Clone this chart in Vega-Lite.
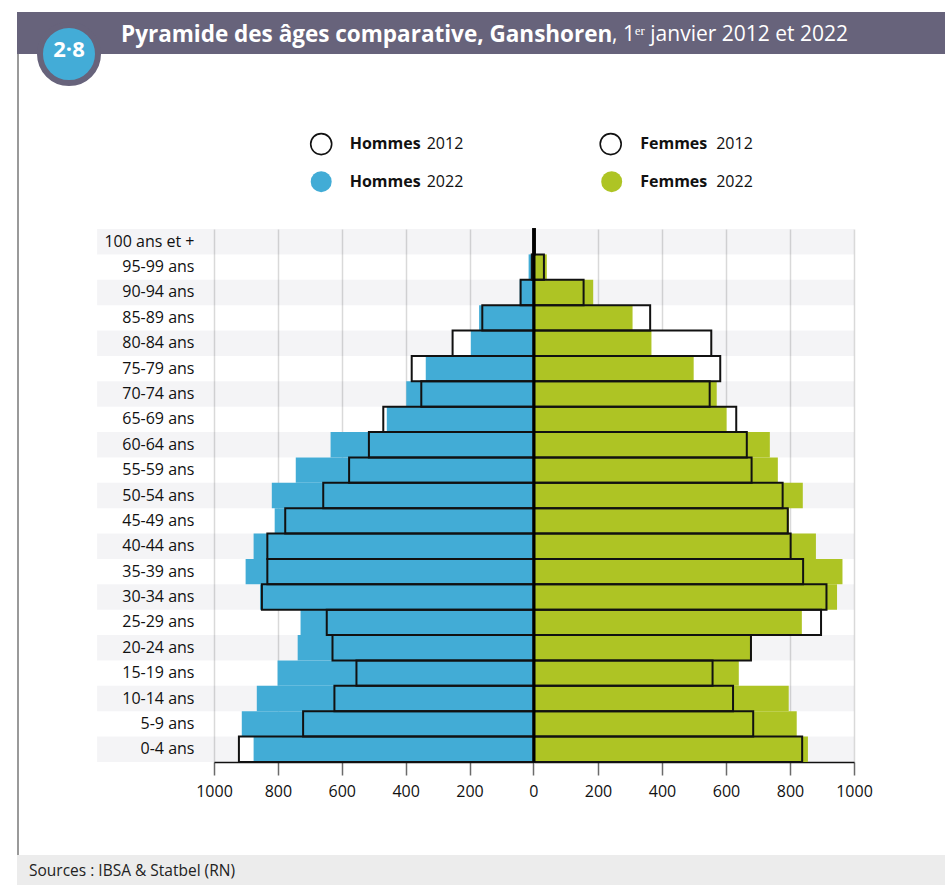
{
  "$schema": "https://vega.github.io/schema/vega-lite/v6.json",
  "padding": {"left": 17, "top": 12, "right": 0, "bottom": 0},
  "background": "white",
  "spacing": 0,
  "bounds": "flush",
  "config": {"view": {"stroke": null}, "font": "Open Sans", "concat": {"spacing": 0}},
  "datasets": {
    "pop": [
      {"age": "100 ans et +", "h2012": 1, "h2022": 1, "f2012": 3, "f2022": 4},
      {"age": "95-99 ans", "h2012": 5, "h2022": 15, "f2012": 31, "f2022": 40},
      {"age": "90-94 ans", "h2012": 40, "h2022": 43, "f2012": 155, "f2022": 185},
      {"age": "85-89 ans", "h2012": 160, "h2022": 170, "f2012": 363, "f2022": 308},
      {"age": "80-84 ans", "h2012": 253, "h2022": 196, "f2012": 554, "f2022": 367},
      {"age": "75-79 ans", "h2012": 381, "h2022": 337, "f2012": 582, "f2022": 499},
      {"age": "70-74 ans", "h2012": 351, "h2022": 398, "f2012": 549, "f2022": 571},
      {"age": "65-69 ans", "h2012": 470, "h2022": 459, "f2012": 632, "f2022": 602},
      {"age": "60-64 ans", "h2012": 515, "h2022": 635, "f2012": 665, "f2022": 737},
      {"age": "55-59 ans", "h2012": 577, "h2022": 744, "f2012": 680, "f2022": 762},
      {"age": "50-54 ans", "h2012": 658, "h2022": 819, "f2012": 777, "f2022": 840},
      {"age": "45-49 ans", "h2012": 777, "h2022": 810, "f2012": 793, "f2022": 797},
      {"age": "40-44 ans", "h2012": 833, "h2022": 876, "f2012": 802, "f2022": 881},
      {"age": "35-39 ans", "h2012": 833, "h2022": 901, "f2012": 841, "f2022": 964},
      {"age": "30-34 ans", "h2012": 850, "h2022": 856, "f2012": 914, "f2022": 947},
      {"age": "25-29 ans", "h2012": 647, "h2022": 729, "f2012": 897, "f2022": 837},
      {"age": "20-24 ans", "h2012": 629, "h2022": 738, "f2012": 678, "f2022": 681},
      {"age": "15-19 ans", "h2012": 554, "h2022": 801, "f2012": 558, "f2022": 640},
      {"age": "10-14 ans", "h2012": 623, "h2022": 866, "f2012": 622, "f2022": 796},
      {"age": "5-9 ans", "h2012": 721, "h2022": 913, "f2012": 685, "f2022": 821},
      {"age": "0-4 ans", "h2012": 922, "h2022": 876, "f2012": 838, "f2022": 856}
    ],
    "entete": [{"num": "2·8", "titre": "Pyramide des âges comparative, Ganshoren", "date": ", 1ᵉʳ janvier 2012 et 2022"}],
    "source": [{"texte": "Sources : IBSA & Statbel (RN)"}],
    "vide": []
  },
  "hconcat": [
    {
      "spacing": 0,
      "bounds": "flush",
      "vconcat": [
        {"width": 2, "height": 42, "data": {"name": "vide"}, "mark": "point", "encoding": {}},
        {"width": 2, "height": 801, "view": {"fill": "#9a9a9a", "stroke": null}, "data": {"name": "vide"}, "mark": "point", "encoding": {}}
      ]
    },
    {
      "spacing": 0,
      "bounds": "flush",
      "vconcat": [
        {
          "spacing": 0,
          "bounds": "flush",
          "hconcat": [
            {
              "width": 104, "height": 42,
              "view": {"fill": "#67637b", "stroke": null},
              "data": {"name": "entete"},
              "layer": [
                {
                  "mark": {"type": "point", "shape": "circle", "filled": true, "fill": "#43acd7", "stroke": "#67637b", "strokeWidth": 6, "size": 3364, "opacity": 1},
                  "encoding": {"y": {"datum": 0, "type": "quantitative", "scale": {"domain": [0, 1]}, "axis": null}}
                },
                {
                  "mark": {"type": "text", "font": "Open Sans", "fontWeight": "bold", "fontSize": 22, "fill": "white", "baseline": "alphabetic", "align": "center", "dy": 3},
                  "encoding": {"y": {"datum": 0, "type": "quantitative"}, "text": {"field": "num"}}
                }
              ]
            },
            {
              "width": 491, "height": 42,
              "view": {"fill": "#67637b", "stroke": null},
              "data": {"name": "entete"},
              "mark": {"type": "text", "font": "Open Sans", "fontWeight": "bold", "fontSize": 22.5, "fill": "white", "align": "left", "baseline": "middle", "dy": 2},
              "encoding": {"x": {"datum": 0, "type": "quantitative", "scale": {"domain": [0, 1]}, "axis": null}, "text": {"field": "titre"}}
            },
            {
              "width": 333, "height": 42,
              "view": {"fill": "#67637b", "stroke": null},
              "data": {"name": "entete"},
              "mark": {"type": "text", "font": "Open Sans", "fontWeight": "normal", "fontSize": 21, "fill": "white", "align": "left", "baseline": "middle", "dy": 2},
              "encoding": {"x": {"datum": 0, "type": "quantitative", "scale": {"domain": [0, 1]}, "axis": null}, "text": {"field": "date"}}
            }
          ]
        },
        {
          "spacing": 0,
          "bounds": "flush",
          "vconcat": [
            {"width": 10, "height": 216.3, "data": {"name": "vide"}, "mark": "point", "encoding": {}},
            {
              "spacing": 0,
              "bounds": "flush",
              "resolve": {"scale": {"fill": "independent", "stroke": "independent"}, "legend": {"fill": "independent", "stroke": "independent"}},
              "hconcat": [
                {"width": 196.3, "height": 533, "data": {"name": "vide"}, "mark": "point", "encoding": {}},
                {
                  "width": 319.4, "height": 533,
                  "data": {"name": "pop"},
                  "encoding": {
                    "y": {
                      "field": "age", "type": "nominal",
                      "scale": {"domain": ["100 ans et +", "95-99 ans", "90-94 ans", "85-89 ans", "80-84 ans", "75-79 ans", "70-74 ans", "65-69 ans", "60-64 ans", "55-59 ans", "50-54 ans", "45-49 ans", "40-44 ans", "35-39 ans", "30-34 ans", "25-29 ans", "20-24 ans", "15-19 ans", "10-14 ans", "5-9 ans", "0-4 ans"], "paddingInner": 0, "paddingOuter": 0},
                      "axis": {"title": null, "domain": false, "ticks": false, "tickSize": 0, "grid": false, "labelPadding": 20, "labelFont": "Open Sans", "labelFontSize": 16, "labelColor": "#111", "labelLimit": 300}
                    }
                  },
                  "layer": [
                    {
                      "transform": [{"window": [{"op": "row_number", "as": "rang"}]}, {"filter": "datum.rang % 2 == 1"}],
                      "mark": {"type": "rect", "fill": "#2a2a55", "fillOpacity": 0.05},
                      "encoding": {
                        "x": {"datum": 1366, "type": "quantitative", "scale": {"domain": [0, 1000], "reverse": true}},
                        "x2": {"datum": 0}
                      }
                    },
                    {
                      "mark": {"type": "bar", "fill": "#ffffff", "strokeWidth": 0},
                      "encoding": {
                        "x": {"field": "h2012", "type": "quantitative", "scale": {"domain": [0, 1000], "reverse": true}}
                      }
                    },
                    {
                      "mark": {"type": "bar", "strokeWidth": 0},
                      "encoding": {
                        "x": {
                          "field": "h2022", "type": "quantitative",
                          "scale": {"domain": [0, 1000], "reverse": true},
                          "axis": {"orient": "bottom", "values": [0, 200, 400, 600, 800, 1000], "format": "d", "title": null, "grid": true, "gridColor": "#d9d9d9", "gridWidth": 1.5, "domainColor": "#111", "domainWidth": 1.5, "tickColor": "#6b6b6b", "tickWidth": 1.5, "tickSize": 13, "labelFont": "Open Sans", "labelFontSize": 16, "labelColor": "#111", "labelPadding": 8, "labelFlush": false, "labelOverlap": false}
                        },
                        "fill": {
                          "datum": "Hommes 2022",
                          "scale": {"domain": ["Hommes 2012", "Hommes 2022", "Femmes 2012", "Femmes 2022"], "range": ["transparent", "#42acd6", "transparent", "#aec424"]},
                          "legend": {
                            "title": null, "orient": "none", "legendX": 95.7, "legendY": -96.8,
                            "columns": 2, "columnPadding": 179.5, "rowPadding": 16,
                            "symbolType": "circle", "symbolSize": 441,
                            "labelFont": "Open Sans", "labelFontSize": 16, "labelFontWeight": "bold", "labelColor": "#111", "labelOffset": 17,
                            "labelExpr": "split(datum.value, ' ')[0]", "padding": 0, "offset": 0
                          }
                        }
                      }
                    },
                    {
                      "mark": {"type": "bar", "fill": "transparent", "strokeWidth": 2},
                      "encoding": {
                        "x": {"field": "h2012", "type": "quantitative", "scale": {"domain": [0, 1000], "reverse": true}},
                        "stroke": {
                          "datum": "H2012",
                          "scale": {"domain": ["H2012", "H2022", "F2012", "F2022"], "range": ["#111111", "transparent", "#111111", "transparent"]},
                          "legend": {
                            "title": null, "orient": "none", "legendX": 95.7, "legendY": -96.8,
                            "columns": 2, "columnPadding": 132.5, "rowPadding": 9,
                            "symbolType": "circle", "symbolSize": 441, "symbolFillColor": "transparent", "symbolStrokeWidth": 1.6,
                            "labelFont": "Open Sans", "labelFontSize": 16, "labelFontWeight": "normal", "labelColor": "#111", "labelOffset": 94,
                            "labelExpr": "slice(datum.value, 1)", "padding": 0, "offset": 0
                          }
                        }
                      }
                    }
                  ]
                },
                {
                  "width": 320, "height": 533,
                  "data": {"name": "pop"},
                  "encoding": {
                    "y": {
                      "field": "age", "type": "nominal",
                      "scale": {"domain": ["100 ans et +", "95-99 ans", "90-94 ans", "85-89 ans", "80-84 ans", "75-79 ans", "70-74 ans", "65-69 ans", "60-64 ans", "55-59 ans", "50-54 ans", "45-49 ans", "40-44 ans", "35-39 ans", "30-34 ans", "25-29 ans", "20-24 ans", "15-19 ans", "10-14 ans", "5-9 ans", "0-4 ans"], "paddingInner": 0, "paddingOuter": 0},
                      "axis": null
                    }
                  },
                  "layer": [
                    {
                      "transform": [{"window": [{"op": "row_number", "as": "rang"}]}, {"filter": "datum.rang % 2 == 1"}],
                      "mark": {"type": "rect", "fill": "#2a2a55", "fillOpacity": 0.05},
                      "encoding": {
                        "x": {"datum": 0, "type": "quantitative", "scale": {"domain": [0, 1000]}},
                        "x2": {"datum": 1000}
                      }
                    },
                    {
                      "mark": {"type": "bar", "fill": "#ffffff", "strokeWidth": 0},
                      "encoding": {
                        "x": {"field": "f2012", "type": "quantitative", "scale": {"domain": [0, 1000]}}
                      }
                    },
                    {
                      "mark": {"type": "bar", "strokeWidth": 0},
                      "encoding": {
                        "x": {
                          "field": "f2022", "type": "quantitative",
                          "scale": {"domain": [0, 1000]},
                          "axis": {"orient": "bottom", "values": [200, 400, 600, 800, 1000], "format": "d", "title": null, "grid": true, "gridColor": "#d9d9d9", "gridWidth": 1.5, "domainColor": "#111", "domainWidth": 1.5, "tickColor": "#6b6b6b", "tickWidth": 1.5, "tickSize": 13, "labelFont": "Open Sans", "labelFontSize": 16, "labelColor": "#111", "labelPadding": 8, "labelFlush": false, "labelOverlap": false}
                        },
                        "fill": {
                          "datum": "Femmes 2022",
                          "scale": {"domain": ["Hommes 2012", "Hommes 2022", "Femmes 2012", "Femmes 2022"], "range": ["transparent", "#42acd6", "transparent", "#aec424"]},
                          "legend": null
                        }
                      }
                    },
                    {
                      "mark": {"type": "bar", "fill": "transparent", "strokeWidth": 2},
                      "encoding": {
                        "x": {"field": "f2012", "type": "quantitative", "scale": {"domain": [0, 1000]}},
                        "stroke": {
                          "datum": "F2012",
                          "scale": {"domain": ["H2012", "H2022", "F2012", "F2022"], "range": ["#111111", "transparent", "#111111", "transparent"]},
                          "legend": null
                        }
                      }
                    },
                    {
                      "mark": {"type": "tick", "orient": "vertical", "thickness": 3, "size": 26, "color": "#000000", "opacity": 1},
                      "encoding": {
                        "x": {"datum": 0, "type": "quantitative"}
                      }
                    }
                  ]
                }
              ]
            }
          ]
        },
        {"width": 10, "height": 843, "data": {"name": "vide"}, "mark": "point", "encoding": {}},
        {
          "width": 928, "height": 30,
          "view": {"fill": "#ececec", "stroke": null},
          "data": {"name": "source"},
          "mark": {"type": "text", "font": "Open Sans", "fontSize": 15.5, "fill": "#222222", "align": "left", "baseline": "middle", "dx": 12, "dy": 1},
          "encoding": {"x": {"datum": 0, "type": "quantitative", "scale": {"domain": [0, 1]}, "axis": null}, "text": {"field": "texte"}}
        }
      ]
    }
  ]
}
